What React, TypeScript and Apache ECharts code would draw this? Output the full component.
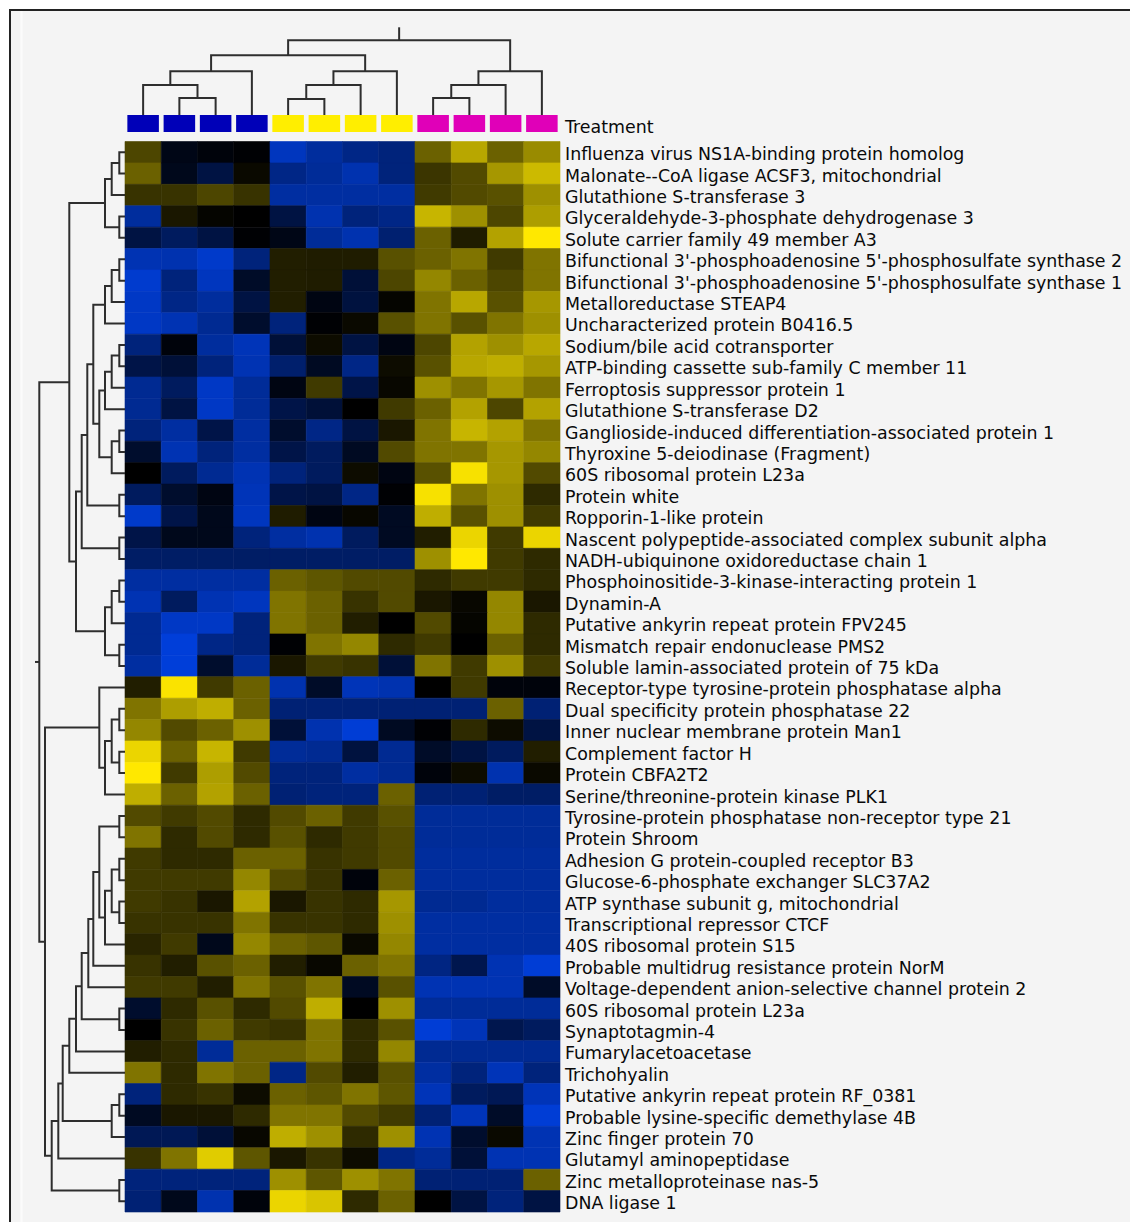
import React, { useEffect, useRef } from "react";
import * as echarts from "echarts";

// ---------- DATA ----------
const columns = ["S1", "S2", "S3", "S4", "S5", "S6", "S7", "S8", "S9", "S10", "S11", "S12"];
const columnGroup = [0, 0, 0, 0, 1, 1, 1, 1, 2, 2, 2, 2];
const treatmentLabel = "Treatment";

const rowLabels = [
  "Influenza virus NS1A-binding protein homolog",
  "Malonate--CoA ligase ACSF3, mitochondrial",
  "Glutathione S-transferase 3",
  "Glyceraldehyde-3-phosphate dehydrogenase 3",
  "Solute carrier family 49 member A3",
  "Bifunctional 3'-phosphoadenosine 5'-phosphosulfate synthase 2",
  "Bifunctional 3'-phosphoadenosine 5'-phosphosulfate synthase 1",
  "Metalloreductase STEAP4",
  "Uncharacterized protein B0416.5",
  "Sodium/bile acid cotransporter",
  "ATP-binding cassette sub-family C member 11",
  "Ferroptosis suppressor protein 1",
  "Glutathione S-transferase D2",
  "Ganglioside-induced differentiation-associated protein 1",
  "Thyroxine 5-deiodinase (Fragment)",
  "60S ribosomal protein L23a",
  "Protein white",
  "Ropporin-1-like protein",
  "Nascent polypeptide-associated complex subunit alpha",
  "NADH-ubiquinone oxidoreductase chain 1",
  "Phosphoinositide-3-kinase-interacting protein 1",
  "Dynamin-A",
  "Putative ankyrin repeat protein FPV245",
  "Mismatch repair endonuclease PMS2",
  "Soluble lamin-associated protein of 75 kDa",
  "Receptor-type tyrosine-protein phosphatase alpha",
  "Dual specificity protein phosphatase 22",
  "Inner nuclear membrane protein Man1",
  "Complement factor H",
  "Protein CBFA2T2",
  "Serine/threonine-protein kinase PLK1",
  "Tyrosine-protein phosphatase non-receptor type 21",
  "Protein Shroom",
  "Adhesion G protein-coupled receptor B3",
  "Glucose-6-phosphate exchanger SLC37A2",
  "ATP synthase subunit g, mitochondrial",
  "Transcriptional repressor CTCF",
  "40S ribosomal protein S15",
  "Probable multidrug resistance protein NorM",
  "Voltage-dependent anion-selective channel protein 2",
  "60S ribosomal protein L23a",
  "Synaptotagmin-4",
  "Fumarylacetoacetase",
  "Trichohyalin",
  "Putative ankyrin repeat protein RF_0381",
  "Probable lysine-specific demethylase 4B",
  "Zinc finger protein 70",
  "Glutamyl aminopeptidase",
  "Zinc metalloproteinase nas-5",
  "DNA ligase 1",
];

// scaled expression (-1 blue .. 0 black .. +1 yellow), one row per protein
const cellValues = [
  [0.3, -0.1, -0.05, -0.02, -0.85, -0.7, -0.6, -0.55, 0.42, 0.72, 0.42, 0.6],
  [0.42, -0.12, -0.3, 0.04, -0.6, -0.68, -0.78, -0.55, 0.23, 0.32, 0.65, 0.8],
  [0.22, 0.22, 0.3, 0.22, -0.72, -0.72, -0.72, -0.72, 0.25, 0.32, 0.35, 0.62],
  [-0.7, 0.1, 0.02, 0, -0.3, -0.78, -0.55, -0.6, 0.78, 0.62, 0.3, 0.68],
  [-0.3, -0.42, -0.3, -0.02, -0.1, -0.68, -0.78, -0.5, 0.42, 0.12, 0.7, 1.0],
  [-0.8, -0.78, -0.9, -0.55, 0.13, 0.12, 0.12, 0.35, 0.42, 0.5, 0.25, 0.5],
  [-0.92, -0.55, -0.85, -0.18, 0.13, 0.12, -0.25, 0.3, 0.58, 0.42, 0.3, 0.5],
  [-0.88, -0.6, -0.7, -0.3, 0.13, -0.08, -0.28, 0.02, 0.5, 0.72, 0.35, 0.65],
  [-0.88, -0.8, -0.65, -0.2, -0.55, -0.02, 0.04, 0.35, 0.5, 0.35, 0.5, 0.62],
  [-0.55, -0.05, -0.7, -0.82, -0.25, 0.05, -0.3, -0.08, 0.3, 0.7, 0.62, 0.72],
  [-0.32, -0.25, -0.55, -0.8, -0.48, -0.15, -0.6, 0.05, 0.35, 0.72, 0.75, 0.65],
  [-0.65, -0.42, -0.88, -0.68, -0.08, 0.25, -0.32, 0.03, 0.62, 0.5, 0.65, 0.5],
  [-0.65, -0.3, -0.88, -0.68, -0.32, -0.25, 0, 0.25, 0.42, 0.7, 0.3, 0.7],
  [-0.55, -0.72, -0.32, -0.72, -0.2, -0.6, -0.3, 0.1, 0.5, 0.78, 0.7, 0.5],
  [-0.2, -0.8, -0.55, -0.72, -0.32, -0.42, -0.15, 0.32, 0.5, 0.5, 0.65, 0.58],
  [0, -0.42, -0.65, -0.8, -0.55, -0.42, 0.05, -0.08, 0.35, 0.97, 0.65, 0.32],
  [-0.42, -0.2, -0.08, -0.82, -0.32, -0.3, -0.6, -0.02, 0.97, 0.5, 0.62, 0.18],
  [-0.9, -0.32, -0.12, -0.85, 0.12, -0.08, 0.03, -0.15, 0.75, 0.35, 0.62, 0.25],
  [-0.32, -0.12, -0.12, -0.55, -0.72, -0.78, -0.42, -0.15, 0.13, 0.92, 0.25, 0.92],
  [-0.45, -0.45, -0.45, -0.45, -0.45, -0.45, -0.45, -0.45, 0.62, 1.0, 0.25, 0.18],
  [-0.72, -0.72, -0.72, -0.72, 0.42, 0.37, 0.32, 0.32, 0.18, 0.25, 0.25, 0.18],
  [-0.8, -0.42, -0.8, -0.85, 0.5, 0.42, 0.22, 0.32, 0.1, 0.03, 0.58, 0.1],
  [-0.65, -0.88, -0.88, -0.55, 0.5, 0.42, 0.13, 0, 0.32, 0.02, 0.58, 0.18],
  [-0.65, -0.97, -0.6, -0.55, -0.02, 0.5, 0.58, 0.18, 0.25, 0, 0.42, 0.18],
  [-0.72, -0.97, -0.2, -0.68, 0.1, 0.25, 0.22, -0.25, 0.5, 0.25, 0.62, 0.25],
  [0.13, 0.98, 0.25, 0.42, -0.78, -0.18, -0.82, -0.78, 0, 0.25, -0.05, -0.05],
  [0.5, 0.68, 0.75, 0.42, -0.52, -0.52, -0.52, -0.52, -0.52, -0.52, 0.42, -0.52],
  [0.58, 0.32, 0.42, 0.62, -0.25, -0.78, -0.95, -0.15, -0.02, 0.18, 0.05, -0.3],
  [0.92, 0.42, 0.78, 0.25, -0.68, -0.65, -0.28, -0.65, -0.18, -0.3, -0.42, 0.13],
  [1.0, 0.25, 0.68, 0.32, -0.55, -0.55, -0.72, -0.65, -0.05, 0.05, -0.78, 0.04],
  [0.75, 0.42, 0.7, 0.42, -0.52, -0.55, -0.55, 0.42, -0.52, -0.52, -0.45, -0.45],
  [0.32, 0.25, 0.32, 0.18, 0.32, 0.42, 0.25, 0.35, -0.68, -0.68, -0.68, -0.68],
  [0.5, 0.18, 0.32, 0.18, 0.35, 0.18, 0.25, 0.32, -0.68, -0.68, -0.68, -0.68],
  [0.25, 0.18, 0.18, 0.42, 0.42, 0.22, 0.25, 0.32, -0.7, -0.7, -0.7, -0.7],
  [0.25, 0.25, 0.25, 0.58, 0.32, 0.22, -0.05, 0.42, -0.7, -0.7, -0.7, -0.7],
  [0.25, 0.22, 0.1, 0.7, 0.1, 0.22, 0.18, 0.65, -0.65, -0.65, -0.7, -0.7],
  [0.22, 0.22, 0.22, 0.5, 0.22, 0.22, 0.18, 0.62, -0.72, -0.72, -0.72, -0.72],
  [0.16, 0.25, -0.12, 0.58, 0.42, 0.37, 0.04, 0.58, -0.72, -0.72, -0.72, -0.72],
  [0.22, 0.13, 0.35, 0.42, 0.13, 0.03, 0.42, 0.5, -0.58, -0.35, -0.8, -0.95],
  [0.25, 0.25, 0.13, 0.5, 0.35, 0.5, -0.15, 0.35, -0.8, -0.8, -0.8, -0.18],
  [-0.2, 0.18, 0.35, 0.18, 0.32, 0.75, 0, 0.62, -0.68, -0.68, -0.68, -0.68],
  [0, 0.22, 0.42, 0.25, 0.22, 0.5, 0.18, 0.35, -0.95, -0.82, -0.35, -0.42],
  [0.13, 0.18, -0.68, 0.42, 0.42, 0.5, 0.18, 0.58, -0.65, -0.65, -0.65, -0.65],
  [0.5, 0.18, 0.5, 0.42, -0.6, 0.32, 0.13, 0.35, -0.72, -0.55, -0.82, -0.55],
  [-0.55, 0.18, 0.22, 0.05, 0.42, 0.37, 0.5, 0.37, -0.82, -0.42, -0.38, -0.82],
  [-0.15, 0.1, 0.1, 0.18, 0.5, 0.5, 0.32, 0.25, -0.52, -0.82, -0.18, -0.95],
  [-0.38, -0.38, -0.25, 0.03, 0.75, 0.62, 0.18, 0.62, -0.8, -0.2, 0.04, -0.8],
  [0.22, 0.5, 0.88, 0.37, 0.1, 0.22, 0.05, -0.6, -0.68, -0.25, -0.8, -0.8],
  [-0.55, -0.55, -0.55, -0.55, 0.62, 0.37, 0.62, 0.5, -0.52, -0.52, -0.52, 0.42],
  [-0.52, -0.12, -0.78, -0.05, 0.92, 0.85, 0.18, 0.42, 0, -0.3, -0.55, -0.3],
];

// column dendrogram: [childA, childB, height]; leaves 0..11, new nodes from 12
const columnMerges = [
  [1, 2, 1.7],
  [0, 12, 3.0],
  [13, 3, 4.4],
  [4, 5, 1.6],
  [15, 6, 3.0],
  [16, 7, 4.4],
  [14, 17, 6.0],
  [8, 9, 1.7],
  [19, 10, 3.0],
  [20, 11, 4.4],
  [18, 21, 7.5],
];
const columnRootStem = 8.8;

// row dendrogram: [childA, childB, height]; leaves 0..49, new nodes from 50
const rowMerges = [
  [0, 1, 5.7], [50, 2, 13.3], [3, 4, 5.7], [51, 52, 20],
  [5, 6, 5.7], [54, 7, 13.3], [55, 8, 20],
  [9, 10, 5.7], [57, 11, 13.3], [58, 12, 20],
  [13, 14, 5.7], [60, 15, 13.3],
  [59, 61, 25.7], [56, 62, 31.7],
  [16, 17, 5.7], [63, 64, 37.7],
  [18, 19, 5.7], [65, 66, 43.3],
  [20, 21, 5.7], [68, 22, 13.3], [23, 24, 5.7], [69, 70, 20],
  [67, 71, 49], [53, 72, 55.7],
  [26, 27, 5.7], [28, 29, 5.7], [74, 75, 13.3], [76, 30, 20], [25, 77, 25.7],
  [31, 32, 5.7], [33, 34, 5.7], [35, 36, 5.7], [80, 81, 13.3], [82, 37, 20], [79, 83, 25.7],
  [84, 38, 31.7], [85, 39, 36.7], [40, 41, 5.7], [86, 87, 43.3], [88, 42, 49], [89, 43, 55.7],
  [44, 45, 5.7], [91, 46, 13.3], [90, 92, 62.3], [93, 47, 66.7], [48, 49, 5.7], [94, 95, 73.3],
  [78, 96, 80], [73, 97, 85.7],
];
const rowRootStem = 90;

// ---------- helpers ----------
function buildLinks(merges: number[][], nLeaves: number, stem: number) {
  const pos: number[] = [];
  const hgt: number[] = [];
  for (let i = 0; i < nLeaves; i++) { pos[i] = i; hgt[i] = 0; }
  const links: number[][] = [];
  merges.forEach(([a, b, h], k) => {
    const id = nLeaves + k;
    pos[id] = (pos[a] + pos[b]) / 2;
    hgt[id] = h;
    links.push([pos[a], hgt[a], pos[b], hgt[b], h]);
  });
  const root = nLeaves + merges.length - 1;
  links.push([pos[root], stem, pos[root], hgt[root], hgt[root]]);
  return links;
}

const FONT = "DejaVu Sans";
const LABEL_SIZE = 17.4;
const LABEL_COLOR = "#0a0a0a";
const LINE_COLOR = "#2e2e2e";
const GROUP_COLORS = ["#0000b8", "#ffee00", "#e000b8"];

export default function App() {
  const ref = useRef<HTMLDivElement>(null);
  useEffect(() => {
    const chart = echarts.init(ref.current, null, { renderer: "svg" });
    const heatData: number[][] = [];
    cellValues.forEach((row, r) => row.forEach((v, c) => heatData.push([c, r, v])));
    const treatData = columns.map((_, c) => [c, 0, columnGroup[c]]);
    const topLinks = buildLinks(columnMerges, columns.length, columnRootStem);
    const leftLinks = buildLinks(rowMerges, rowLabels.length, rowRootStem);

    const heatLeft = 125, heatTop = 141.5, heatW = 435, heatH = 1070.5;

    const option: any = {
      animation: false,
      backgroundColor: "#f4f4f4",
      grid: [
        { left: heatLeft, top: heatTop, width: heatW, height: heatH },
        { left: heatLeft, top: 115, width: heatW, height: 17 },
        { left: heatLeft, top: 27.3, width: heatW, height: 87.7 },
        { left: 35, top: heatTop, width: 90, height: heatH },
      ],
      xAxis: [
        { type: "category", gridIndex: 0, data: columns, show: false },
        { type: "category", gridIndex: 1, data: columns, show: false },
        { type: "value", gridIndex: 2, min: -0.5, max: 11.5, show: false },
        { type: "value", gridIndex: 3, min: 0, max: 90, inverse: true, show: false },
      ],
      yAxis: [
        {
          type: "category", gridIndex: 0, data: rowLabels, inverse: true, position: "right",
          axisLine: { show: false }, axisTick: { show: false }, splitLine: { show: false },
          axisLabel: {
            interval: 0, margin: 5, verticalAlign: "top", lineHeight: 4,
            fontFamily: FONT, fontSize: LABEL_SIZE, color: LABEL_COLOR,
          },
        },
        {
          type: "category", gridIndex: 1, data: [treatmentLabel], position: "right",
          axisLine: { show: false }, axisTick: { show: false }, splitLine: { show: false },
          axisLabel: {
            interval: 0, margin: 5, verticalAlign: "top", lineHeight: 6,
            fontFamily: FONT, fontSize: LABEL_SIZE, color: LABEL_COLOR,
          },
        },
        { type: "value", gridIndex: 2, min: 0, max: columnRootStem, show: false },
        { type: "value", gridIndex: 3, min: -0.5, max: rowLabels.length - 0.5, inverse: true, show: false },
      ],
      visualMap: {
        type: "continuous", show: false, min: -1, max: 1, seriesIndex: 0, dimension: 2,
        inRange: { color: ["#0040e0", "#000000", "#ffe800"] },
      },
      series: [
        {
          type: "custom", xAxisIndex: 0, yAxisIndex: 0, data: heatData,
          encode: { x: 0, y: 1 },
          renderItem: (params: any, api: any) => {
            const p = api.coord([api.value(0), api.value(1)]);
            const s = api.size([1, 1]);
            const col = api.visual("color");
            return {
              type: "rect",
              shape: { x: p[0] - s[0] / 2, y: p[1] - s[1] / 2, width: s[0], height: s[1] },
              style: { fill: col, stroke: col, lineWidth: 0.6 },
            };
          },
        },
        {
          type: "custom", xAxisIndex: 1, yAxisIndex: 1, data: treatData,
          encode: { x: 0, y: 1 },
          renderItem: (params: any, api: any) => {
            const p = api.coord([api.value(0), api.value(1)]);
            const s = api.size([1, 1]);
            const w = s[0] * 0.87;
            return {
              type: "rect",
              shape: { x: p[0] - w / 2, y: p[1] - s[1] / 2, width: w, height: s[1] },
              style: { fill: GROUP_COLORS[api.value(2)] },
            };
          },
        },
        {
          type: "custom", xAxisIndex: 2, yAxisIndex: 2, data: topLinks,
          encode: { x: 0, y: 1 },
          renderItem: (params: any, api: any) => {
            const xa = api.value(0), ha = api.value(1), xb = api.value(2), hb = api.value(3), h = api.value(4);
            return {
              type: "polyline",
              shape: { points: [api.coord([xa, ha]), api.coord([xa, h]), api.coord([xb, h]), api.coord([xb, hb])] },
              style: { stroke: LINE_COLOR, lineWidth: 2, fill: null },
            };
          },
        },
        {
          type: "custom", xAxisIndex: 3, yAxisIndex: 3, data: leftLinks,
          encode: { x: 1, y: 0 },
          renderItem: (params: any, api: any) => {
            const ya = api.value(0), ha = api.value(1), yb = api.value(2), hb = api.value(3), h = api.value(4);
            return {
              type: "polyline",
              shape: { points: [api.coord([ha, ya]), api.coord([h, ya]), api.coord([h, yb]), api.coord([hb, yb])] },
              style: { stroke: LINE_COLOR, lineWidth: 2, fill: null },
            };
          },
        },
      ],
      graphic: [
        { type: "rect", shape: { x: 0, y: 0, width: 1130, height: 9 }, style: { fill: "#ffffff" }, silent: true },
        { type: "rect", shape: { x: 0, y: 0, width: 9, height: 1222 }, style: { fill: "#ffffff" }, silent: true },
        { type: "line", shape: { x1: 9, y1: 10, x2: 1130, y2: 10 }, style: { stroke: "#222", lineWidth: 2 }, silent: true },
        { type: "line", shape: { x1: 10, y1: 9, x2: 10, y2: 1222 }, style: { stroke: "#222", lineWidth: 2 }, silent: true },
        { type: "line", shape: { x1: 21.5, y1: 11, x2: 21.5, y2: 1222 }, style: { stroke: "#fbfbfb", lineWidth: 2 }, silent: true },
      ],
    };
    chart.setOption(option);
    return () => chart.dispose();
  }, []);
  return (
    <div style={{ position: "absolute", left: 0, top: 0, width: 1130, height: 1222 }}>
      <div ref={ref} style={{ width: 1130, height: 1222 }} />
    </div>
  );
}
